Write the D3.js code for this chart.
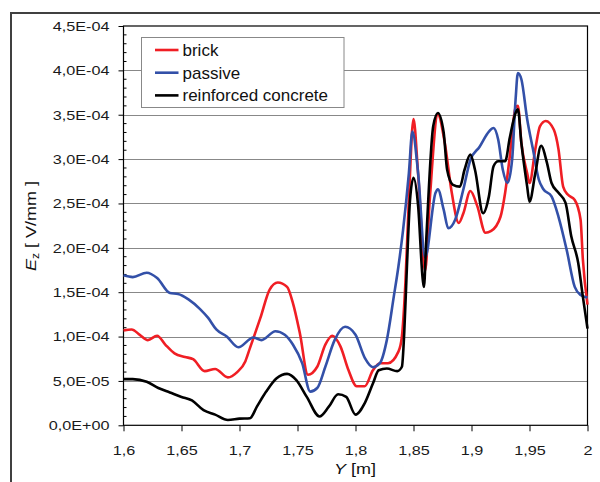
<!DOCTYPE html>
<html>
<head>
<meta charset="utf-8">
<script src="https://cdn.jsdelivr.net/npm/d3@7/dist/d3.min.js"></script>
<style>
  body { margin: 0; background: #fff; }
  svg { font-family: "Liberation Sans", Arial, sans-serif; }
</style>
</head>
<body>
<div id="chart"></div>
<script>
// field Ez along Y, values in units of 1E-04 V/mm
const brick = [
  [1.600, 1.07], [1.607, 1.08], [1.614, 1.02], [1.621, 0.96], [1.629, 1.01], [1.636, 0.91],
  [1.644, 0.81], [1.653, 0.77], [1.660, 0.745], [1.670, 0.61], [1.679, 0.635], [1.690, 0.54],
  [1.698, 0.60], [1.705, 0.72], [1.709, 0.87], [1.718, 1.21], [1.726, 1.53], [1.733, 1.61],
  [1.741, 1.56], [1.746, 1.38], [1.752, 1.04], [1.759, 0.57], [1.767, 0.66], [1.774, 0.91],
  [1.780, 1.01], [1.787, 0.89], [1.794, 0.62], [1.801, 0.44], [1.808, 0.44], [1.815, 0.62],
  [1.821, 0.70], [1.828, 0.70], [1.837, 0.83], [1.840, 1.00], [1.843, 1.60], [1.846, 2.54],
  [1.850, 3.45], [1.854, 2.83], [1.860, 1.74], [1.864, 2.54], [1.871, 3.50], [1.877, 3.18],
  [1.883, 2.62], [1.889, 2.28], [1.893, 2.39], [1.899, 2.64], [1.905, 2.47], [1.912, 2.17],
  [1.917, 2.19], [1.925, 2.35], [1.929, 2.62], [1.933, 3.03], [1.938, 3.58], [1.940, 3.60],
  [1.943, 3.18], [1.948, 2.84], [1.950, 2.73], [1.955, 3.11], [1.959, 3.37], [1.964, 3.43],
  [1.971, 3.33], [1.975, 3.11], [1.979, 2.69], [1.983, 2.60], [1.989, 2.54], [1.994, 2.32],
  [1.996, 1.87], [2.000, 1.36]
];

const passive = [
  [1.600, 1.69], [1.608, 1.67], [1.620, 1.72], [1.629, 1.66], [1.640, 1.49], [1.647, 1.48],
  [1.656, 1.42], [1.666, 1.31], [1.673, 1.21], [1.680, 1.08], [1.689, 1.00], [1.699, 0.88],
  [1.712, 0.99], [1.719, 0.96], [1.731, 1.06], [1.739, 1.02], [1.746, 0.91], [1.754, 0.70],
  [1.761, 0.38], [1.767, 0.42], [1.774, 0.66], [1.782, 0.96], [1.791, 1.11], [1.800, 1.02],
  [1.808, 0.76], [1.815, 0.655], [1.821, 0.70], [1.827, 0.96], [1.833, 1.45], [1.837, 1.79],
  [1.841, 2.20], [1.846, 2.84], [1.849, 3.31], [1.854, 2.84], [1.860, 1.89], [1.869, 2.62],
  [1.871, 2.66], [1.876, 2.43], [1.880, 2.22], [1.886, 2.32], [1.893, 2.66], [1.899, 2.99],
  [1.907, 3.14], [1.915, 3.31], [1.919, 3.35], [1.923, 3.22], [1.927, 2.88], [1.931, 2.73],
  [1.935, 2.99], [1.938, 3.67], [1.940, 3.97], [1.943, 3.90], [1.948, 3.45], [1.953, 3.11],
  [1.958, 2.77], [1.962, 2.66], [1.969, 2.58], [1.975, 2.35], [1.982, 1.98], [1.989, 1.56],
  [1.994, 1.47], [2.000, 1.44]
];

const concrete = [
  [1.600, 0.52], [1.608, 0.52], [1.620, 0.49], [1.630, 0.42], [1.640, 0.37], [1.650, 0.32],
  [1.659, 0.28], [1.669, 0.17], [1.679, 0.12], [1.690, 0.06], [1.700, 0.075], [1.709, 0.08],
  [1.715, 0.21], [1.723, 0.38], [1.732, 0.53], [1.741, 0.58], [1.749, 0.51], [1.758, 0.32],
  [1.769, 0.10], [1.777, 0.21], [1.785, 0.35], [1.792, 0.32], [1.800, 0.12], [1.808, 0.25],
  [1.815, 0.47], [1.820, 0.62], [1.827, 0.64], [1.836, 0.61], [1.840, 0.66], [1.842, 1.04],
  [1.844, 1.68], [1.847, 2.54], [1.850, 2.79], [1.854, 2.47], [1.858, 1.64], [1.859, 1.56],
  [1.861, 2.09], [1.867, 3.37], [1.871, 3.52], [1.876, 3.30], [1.879, 2.88], [1.884, 2.71],
  [1.890, 2.69], [1.894, 2.88], [1.899, 3.05], [1.903, 2.88], [1.910, 2.39], [1.915, 2.58],
  [1.919, 2.92], [1.923, 2.975], [1.929, 2.975], [1.933, 3.24], [1.938, 3.52], [1.940, 3.56],
  [1.943, 3.18], [1.948, 2.69], [1.950, 2.52], [1.955, 2.84], [1.960, 3.15], [1.965, 2.96],
  [1.969, 2.73], [1.975, 2.62], [1.981, 2.51], [1.986, 2.13], [1.992, 1.83], [1.996, 1.45],
  [2.000, 1.09]
];

const seriesNames = ["brick", "passive", "reinforced concrete"];
const seriesColors = ["#f01e24", "#3350a8", "#000000"];
const xTicks = [1.6, 1.65, 1.7, 1.75, 1.8, 1.85, 1.9, 1.95, 2.0];
const yTicks = [0, 0.5, 1, 1.5, 2, 2.5, 3, 3.5, 4, 4.5];

const unit = 1e-4;
const W = 600, H = 482;
const margin = { top: 26, left: 123.5 };
const width = 464, height = 399.3;
const stretchX = 1.2;

const svg = d3.select("#chart").append("svg")
    .attr("width", W)
    .attr("height", H);

// outer frame of the figure (right/bottom fall outside the picture)
svg.append("path")
    .attr("d", "M11,490 L11,13 L610,13")
    .attr("fill", "none")
    .attr("stroke", "#404040")
    .attr("stroke-width", 2);

const g = svg.append("g").attr("transform", `translate(${margin.left},${margin.top})`);

const x = d3.scaleLinear().domain([1.6, 2.0]).range([0, width]);
const y = d3.scaleLinear().domain([0, 4.5 * unit]).range([height, 0]);

// tick labels like "4,5E-04"
const sciFormat = (v) => {
  const s = d3.format(".1e")(v);
  const [m, e] = s.split("e");
  const sign = e[0] === "-" ? "-" : "+";
  const ex = e.replace(/[-+]/, "").padStart(2, "0");
  return m.replace(".", ",") + "E" + sign + ex;
};

// stretch the narrow text a bit, like the picture
const stretch = (sel) => sel.each(function () {
  const w = this.getComputedTextLength();
  this.setAttribute("textLength", w * stretchX);
  this.setAttribute("lengthAdjust", "spacingAndGlyphs");
});

// gridlines
g.append("g")
    .selectAll("line")
    .data(yTicks.slice(1, -1))
    .join("line")
    .attr("x1", 0).attr("x2", width)
    .attr("y1", (d) => Math.round(y(d * unit)) + 0.5)
    .attr("y2", (d) => Math.round(y(d * unit)) + 0.5)
    .attr("stroke", "#888")
    .attr("stroke-width", 1);

// minor y ticks (inside)
const minor = d3.range(0, 45).map((i) => i / 10).filter((v) => Math.abs(v * 2 - Math.round(v * 2)) > 1e-6);
g.append("g")
    .selectAll("line")
    .data(minor)
    .join("line")
    .attr("x1", 0).attr("x2", 3)
    .attr("y1", (d) => y(d * unit))
    .attr("y2", (d) => y(d * unit))
    .attr("stroke", "#000");

// y axis
const yAxis = g.append("g")
    .call(d3.axisLeft(y)
        .tickValues(yTicks.map((d) => d * unit))
        .tickFormat(sciFormat)
        .tickSize(5)
        .tickPadding(9));
yAxis.select(".domain").remove();
yAxis.selectAll("text").attr("font-size", 13.5).attr("fill", "#1a1a1a").call(stretch);

// x axis
const xAxis = g.append("g")
    .attr("transform", `translate(0,${height})`)
    .call(d3.axisBottom(x)
        .tickValues(xTicks)
        .tickFormat((d) => String(d).replace(".", ","))
        .tickSize(6)
        .tickPadding(14));
xAxis.select(".domain").remove();
xAxis.selectAll("text").attr("font-size", 13.5).attr("fill", "#1a1a1a").call(stretch);

// plot border
g.append("rect")
    .attr("x", 0).attr("y", 0)
    .attr("width", width).attr("height", height)
    .attr("fill", "none")
    .attr("stroke", "#000")
    .attr("stroke-width", 1.2);

// lines
const line = d3.line()
    .x((d) => x(d[0]))
    .y((d) => y(d[1] * unit))
    .curve(d3.curveMonotoneX);

const allSeries = [brick, passive, concrete];
g.append("g")
    .selectAll("path")
    .data(allSeries)
    .join("path")
    .attr("fill", "none")
    .attr("stroke", (d, i) => seriesColors[i])
    .attr("stroke-width", 2.6)
    .attr("stroke-linejoin", "round")
    .attr("d", line);

// legend
const legend = svg.append("g").attr("transform", "translate(141.5,37.5)");
legend.append("rect")
    .attr("width", 202.5).attr("height", 70)
    .attr("fill", "#fff")
    .attr("stroke", "#888");

const item = legend.selectAll("g.item")
    .data(seriesNames)
    .join("g")
    .attr("class", "item")
    .attr("transform", (d, i) => `translate(0,${12.5 + i * 22.7})`);
item.append("line")
    .attr("x1", 13.5).attr("x2", 37)
    .attr("stroke", (d, i) => seriesColors[i])
    .attr("stroke-width", 2.6);
item.append("text")
    .attr("x", 41)
    .attr("y", 6)
    .attr("font-size", 17)
    .attr("fill", "#111")
    .text((d) => d);

// axis titles
const yTitle = svg.append("text")
    .attr("transform", "translate(36,226) rotate(-90)")
    .attr("text-anchor", "middle")
    .attr("font-size", 15)
    .attr("fill", "#111");
yTitle.append("tspan").attr("font-style", "italic").text("E");
yTitle.append("tspan").attr("font-size", 10).attr("dy", 3).text("z");
yTitle.append("tspan").attr("dy", -3).text(" [ V/mm ]");
yTitle.call(stretch);

const xTitle = svg.append("text")
    .attr("x", 355)
    .attr("y", 474)
    .attr("text-anchor", "middle")
    .attr("font-size", 15)
    .attr("fill", "#111");
xTitle.append("tspan").attr("font-style", "italic").text("Y");
xTitle.append("tspan").text("  [m]");
xTitle.call(stretch);
</script>
</body>
</html>
